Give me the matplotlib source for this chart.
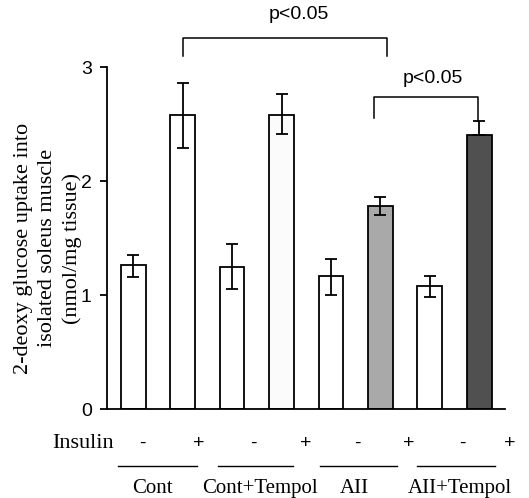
import matplotlib

matplotlib.use('Agg')
import matplotlib.pyplot as plt
import numpy as np

# data
groups = ['Cont', 'Cont+Tempol', 'AII', 'AII+Tempol']
insulin = ['-', '+', '-', '+', '-', '+', '-', '+']
uptake = [1.26, 2.58, 1.25, 2.58, 1.17, 1.78, 1.08, 2.40]
err_lo = [0.10, 0.29, 0.20, 0.17, 0.17, 0.08, 0.10, 0.0]
err_hi = [0.09, 0.28, 0.20, 0.18, 0.15, 0.08, 0.09, 0.13]
bar_colors = ['white', 'white', 'white', '#fbfbfb', 'white', '#a9a9a9', 'white', '#505050']
sig_label = 'p<0.05'

serif = 'Liberation Serif'
sans = 'Liberation Sans'

fig = plt.figure(figsize=(5.29, 4.98), dpi=100)
ax = fig.add_axes([107 / 529, 1 - 409 / 498, 398 / 529, 342 / 498])

x = np.arange(len(uptake))
ax.bar(x, uptake, width=0.5, color=bar_colors, edgecolor='black', linewidth=1.3, zorder=2)
ax.errorbar(x, uptake, yerr=[err_lo, err_hi], fmt='none', ecolor='black',
            elinewidth=1.3, capsize=4, capthick=1.3, zorder=3)

ax.set_xlim(-0.53, 7.52)
ax.set_ylim(0, 3)
ax.set_yticks([0, 1, 2, 3])
ax.set_yticklabels(['0', '1', '2', '3'], fontfamily=sans, fontsize=14)
ax.set_xticks([])
for s in ['top', 'right']:
    ax.spines[s].set_visible(False)
ax.spines['left'].set_linewidth(1.3)
ax.spines['bottom'].set_linewidth(1.3)
ax.tick_params(axis='y', direction='out', length=5, width=1.3, pad=6)

# y label placed by hand so the three lines sit like the original
fig.text(48 / 529, 1 - 248 / 498,
         '2-deoxy glucose uptake into\nisolated soleus muscle\n(nmol/mg tissue)',
         rotation=90, ha='center', va='center', fontfamily=serif, fontsize=16,
         linespacing=1.35)

# significance brackets
def bracket(x0, x1, y_top, y_l, y_r, tx, ty):
    ax.plot([x0, x0, x1, x1], [y_l, y_top, y_top, y_r], color='black', lw=1.1,
            clip_on=False, zorder=4)
    ax.text(tx, ty, sig_label, ha='center', va='center', fontfamily=sans,
            fontsize=14, clip_on=False)

bracket(1.0, 5.13, 3.25, 3.10, 3.10, 3.35, 3.46)
bracket(4.87, 6.97, 2.74, 2.55, 2.53, 6.06, 2.90)

# insulin row and group labels below axis
trans = ax.get_xaxis_transform()
ax.text(-1.01, -0.1, 'Insulin', ha='center', va='center', transform=trans,
        fontfamily=serif, fontsize=16)
sign_x = [0.18, 1.33, 2.44, 3.49, 4.53, 5.58, 6.65, 7.62]
for sx, s in zip(sign_x, insulin):
    ax.text(sx, -0.1, s, ha='center', va='center', transform=trans,
            fontfamily=sans, fontsize=14)

line_spans = [(-0.30, 1.29), (1.72, 3.23), (3.78, 5.33), (5.74, 7.31)]
label_x = [0.38, 2.57, 4.48, 6.61]
for (a, b), lx, g in zip(line_spans, label_x, groups):
    ax.plot([a, b], [-0.167, -0.167], color='black', lw=1.0, transform=trans, clip_on=False)
    ax.text(lx, -0.232, g, ha='center', va='center', transform=trans,
            fontfamily=serif, fontsize=15)

fig.savefig('out.png', dpi=100)
